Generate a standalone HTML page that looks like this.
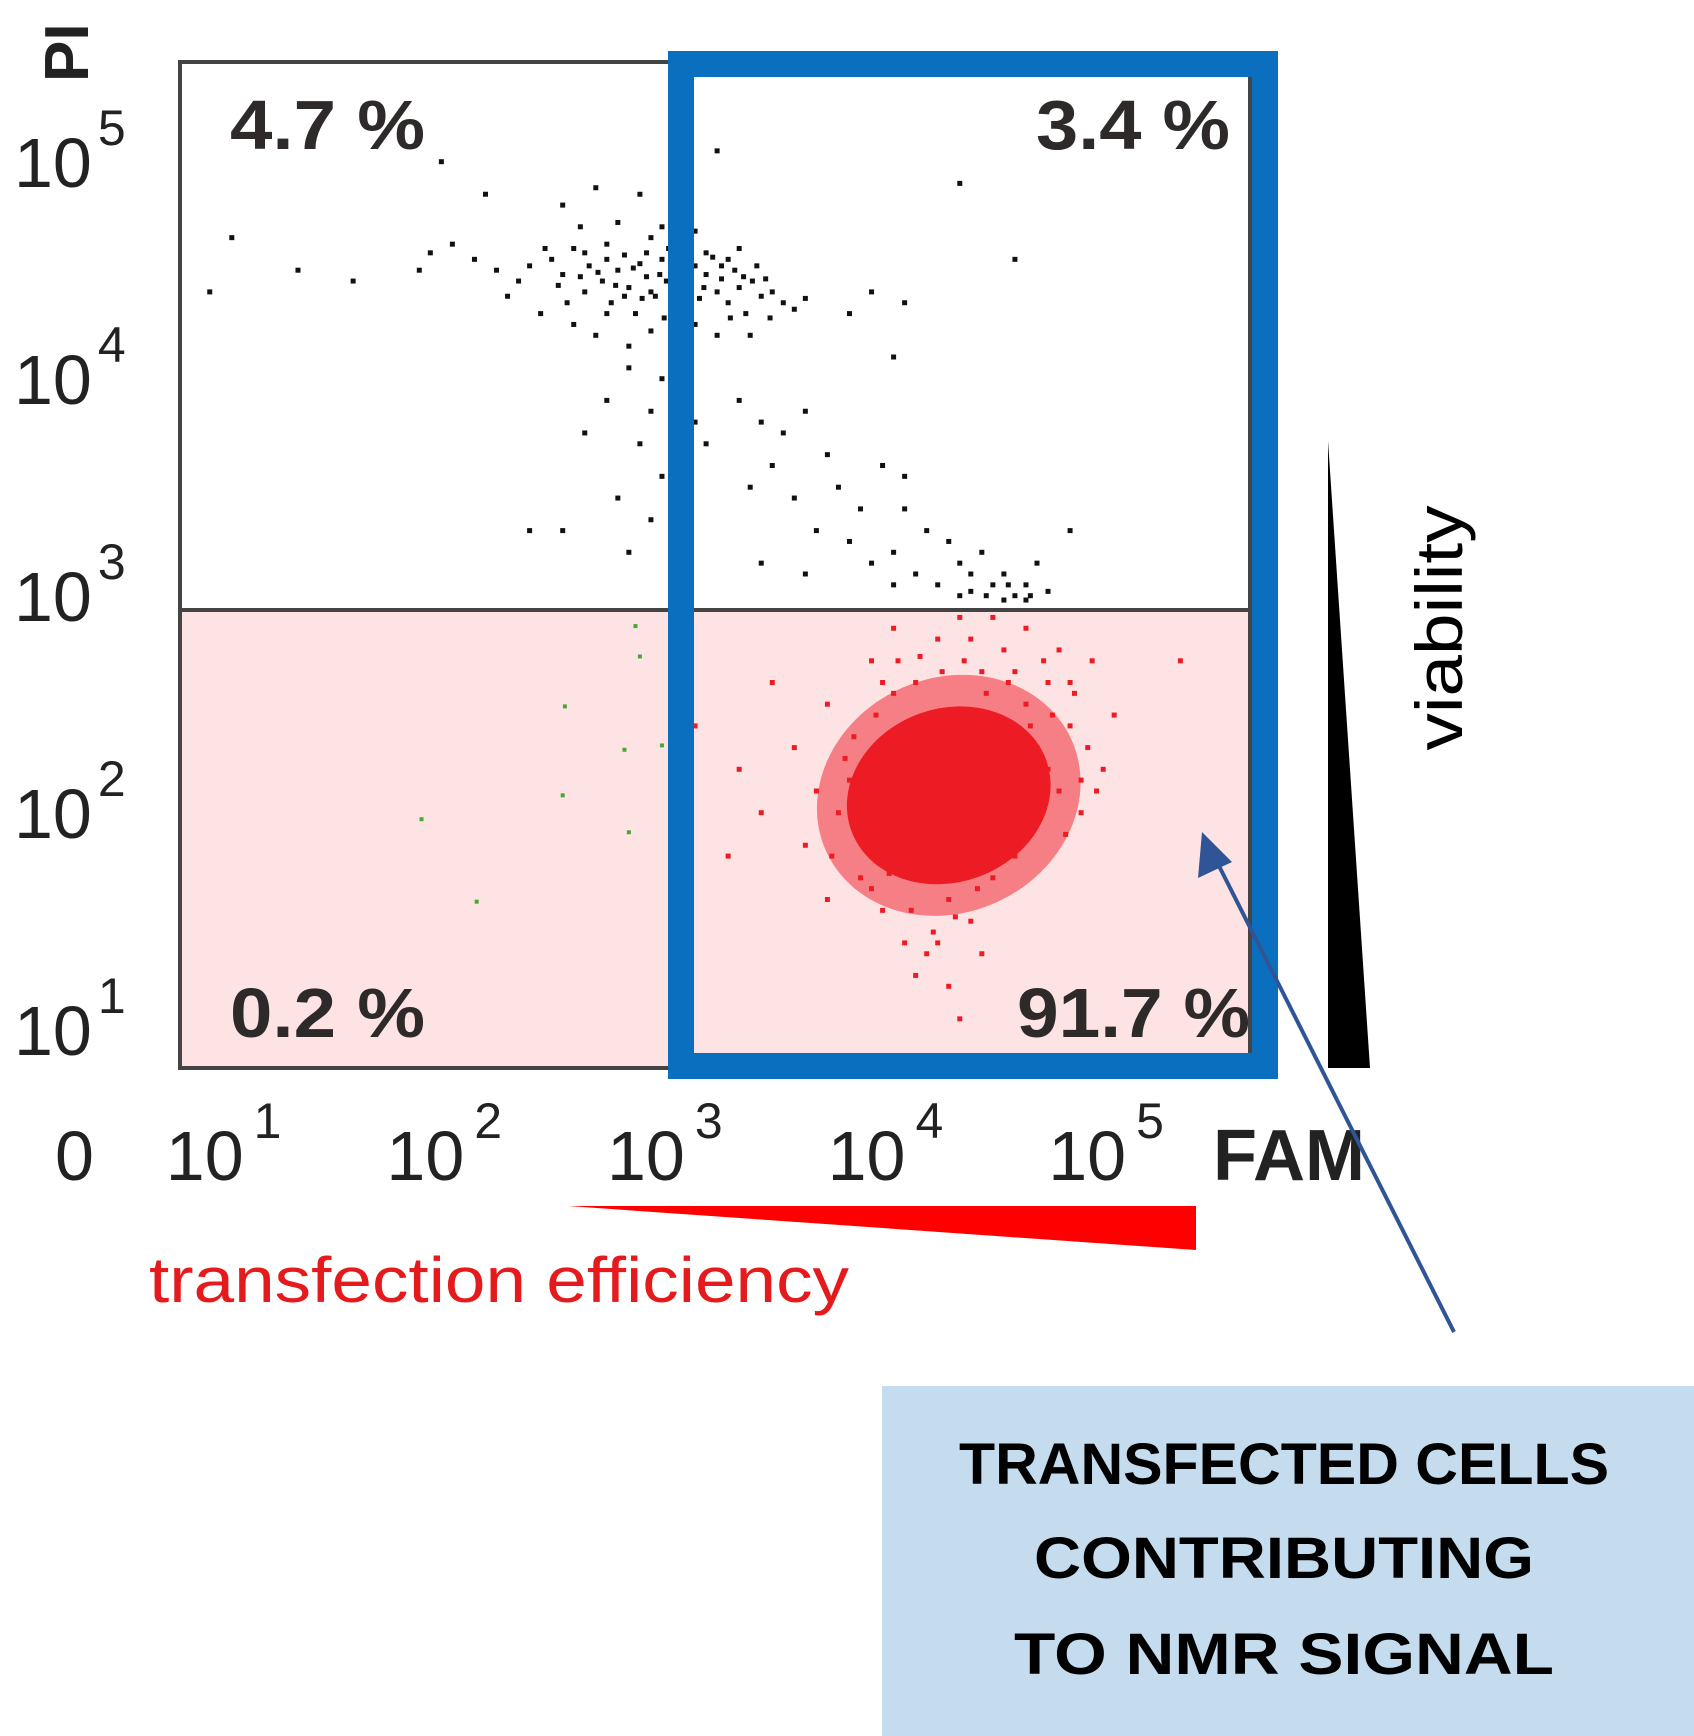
<!DOCTYPE html>
<html><head><meta charset="utf-8"><style>
html,body{margin:0;padding:0;background:#fff;}
svg{display:block;}
text{font-family:"Liberation Sans",sans-serif;}
</style></head><body>
<svg id="chart" width="1694" height="1736" viewBox="0 0 1694 1736" xmlns="http://www.w3.org/2000/svg">
  <rect x="180" y="610" width="1070" height="458" fill="#fde3e4"/>
  <g id="points"></g>
  <rect x="180" y="62" width="1070" height="1006" fill="none" stroke="#444" stroke-width="4"/>
  <line x1="180" y1="610" x2="1250" y2="610" stroke="#444" stroke-width="4"/>
  <rect x="681" y="64" width="584" height="1002" fill="none" stroke="#0b6fbf" stroke-width="26"/>

  <g font-weight="bold" font-size="70" fill="#2e2a2a">
    <text x="230" y="149" textLength="195" lengthAdjust="spacingAndGlyphs">4.7 %</text>
    <text x="1036" y="149" textLength="194" lengthAdjust="spacingAndGlyphs">3.4 %</text>
    <text x="230" y="1037" textLength="195" lengthAdjust="spacingAndGlyphs">0.2 %</text>
    <text x="1017" y="1037" textLength="233" lengthAdjust="spacingAndGlyphs">91.7 %</text>
  </g>

  <g id="yticks"></g>
  <g id="xticks"></g>
  <text x="88" y="82" font-size="62" font-weight="bold" fill="#222" transform="rotate(-90 88 82)">PI</text>
  <text x="1213" y="1180" font-size="72" font-weight="bold" fill="#222">FAM</text>

  <polygon points="1328,441 1370,1068 1328,1068" fill="#000"/>
  <text x="0" y="0" font-size="66" fill="#000" transform="translate(1462 628) rotate(-90)" text-anchor="middle" textLength="245" lengthAdjust="spacingAndGlyphs">viability</text>

  <polygon points="568,1206 1196,1206 1196,1250" fill="#ff0000"/>
  <text x="149" y="1302" font-size="64" fill="#e41a1c" textLength="700" lengthAdjust="spacingAndGlyphs">transfection efficiency</text>

  <line x1="1454" y1="1332" x2="1215" y2="858" stroke="#2f5597" stroke-width="4"/>
  <polygon points="1202,832 1198,878 1232,862" fill="#2f5597"/>

  <rect x="882" y="1386" width="812" height="350" fill="#c5dcee"/>
  <g font-weight="bold" font-size="58" fill="#000" text-anchor="middle">
    <text x="1284" y="1484" textLength="650" lengthAdjust="spacingAndGlyphs">TRANSFECTED CELLS</text>
    <text x="1284" y="1578" textLength="500" lengthAdjust="spacingAndGlyphs">CONTRIBUTING</text>
    <text x="1284" y="1674" textLength="540" lengthAdjust="spacingAndGlyphs">TO NMR SIGNAL</text>
  </g>
</svg>
<script>
const NS = "http://www.w3.org/2000/svg";
const yTickExps = [5, 4, 3, 2, 1];
const xTickExps = [1, 2, 3, 4, 5];
const blackPts = [[2.45,4.45],[2.5,4.38],[2.55,4.5],[2.6,4.3],[2.62,4.42],[2.68,4.35],[2.7,4.52],[2.72,4.25],[2.75,4.4],[2.78,4.47],[2.8,4.32],[2.83,4.2],[2.85,4.43],[2.88,4.37],[2.9,4.55],[2.92,4.28],[2.95,4.45],[2.97,4.35],[3.0,4.4],[3.02,4.22],[3.05,4.5],[3.08,4.33],[3.1,4.42],[3.12,4.27],[3.15,4.38],[3.18,4.46],[3.2,4.3],[3.22,4.36],[3.25,4.25],[3.28,4.4],[3.3,4.32],[3.33,4.2],[3.36,4.35],[3.4,4.28],[3.45,4.3],[3.5,4.25],[3.55,4.22],[3.6,4.27],[2.3,4.35],[2.35,4.42],[2.2,4.4],[2.25,4.28],[2.1,4.45],[2.0,4.52],[1.9,4.48],[1.85,4.4],[2.4,4.2],[2.55,4.15],[2.65,4.1],[2.8,4.05],[2.9,4.12],[3.0,4.08],[3.1,4.15],[3.2,4.1],[3.35,4.1],[2.58,4.6],[2.75,4.62],[2.95,4.6],[3.1,4.58],[3.3,4.5],[2.5,4.7],[2.85,4.75],[2.65,4.78],[2.48,4.33],[2.7,4.45],[2.9,4.3],[3.05,4.28],[3.15,4.48],[2.6,4.48],[2.78,4.28],[3.25,4.45],[2.42,4.5],[2.52,4.25],[2.88,4.48],[3.38,4.42],[2.66,4.39],[2.74,4.33],[2.82,4.41],[2.86,4.27],[2.94,4.38],[3.04,4.36],[3.14,4.32],[3.22,4.42],[3.32,4.37],[3.42,4.36],[2.58,4.37],[2.98,4.5],[3.06,4.42],[2.7,4.2],[2.96,4.18],[3.26,4.18],[3.44,4.18],[2.8,3.95],[2.95,3.9],[3.05,3.85],[2.7,3.8],[2.9,3.75],[3.1,3.7],[2.6,3.65],[2.85,3.6],[3.15,3.6],[3.3,3.8],[3.4,3.7],[3.5,3.65],[3.6,3.75],[3.7,3.55],[3.45,3.5],[2.95,3.45],[2.75,3.35],[2.9,3.25],[3.0,3.15],[2.5,3.2],[2.35,3.2],[2.8,3.1],[3.35,3.4],[3.55,3.35],[3.75,3.4],[3.85,3.3],[3.95,3.5],[4.05,3.45],[3.65,3.2],[3.8,3.15],[3.9,3.05],[4.0,3.1],[4.1,3.0],[4.2,2.95],[4.3,3.05],[4.35,2.92],[4.45,2.95],[4.5,3.0],[4.55,2.9],[4.6,2.95],[4.4,3.1],[4.25,3.15],[4.15,3.2],[4.65,3.05],[4.7,2.92],[4.8,3.2],[4.05,3.3],[3.6,3.0],[3.4,3.05],[4.5,2.88],[4.35,3.0],[4.6,2.88],[4.3,2.9],[4.0,2.95],[4.42,2.9],[4.52,2.95],[4.62,2.9],[1.0,4.55],[1.3,4.4],[1.55,4.35],[0.9,4.3],[3.2,4.95],[4.3,4.8],[4.55,4.45],[4.05,4.25],[3.9,4.3],[3.8,4.2],[4.0,4.0],[1.95,4.9],[2.15,4.75]];
const redPts = [[3.55,2.2],[3.7,2.4],[3.75,1.9],[3.8,2.05],[3.85,1.6],[3.9,2.6],[3.95,1.45],[4.0,2.75],[4.05,1.3],[4.1,2.5],[4.15,1.25],[4.2,2.7],[4.25,1.5],[4.3,2.8],[4.35,1.4],[4.4,2.55],[4.45,1.6],[4.5,2.65],[4.55,1.7],[4.6,2.4],[4.65,2.2],[4.7,2.5],[4.75,2.0],[4.8,2.3],[4.85,1.9],[4.9,2.6],[4.95,2.1],[5.0,2.35],[3.6,1.75],[3.65,2.0],[3.7,1.5],[3.82,2.25],[3.88,1.75],[3.92,2.35],[3.98,1.62],[4.02,2.6],[4.08,1.45],[4.12,2.62],[4.18,1.35],[4.22,2.55],[4.28,1.42],[4.32,2.6],[4.38,1.55],[4.42,2.45],[4.48,1.7],[4.52,2.5],[4.58,1.85],[4.62,2.3],[4.68,1.95],[4.72,2.35],[4.78,1.8],[4.82,2.45],[4.88,2.2],[4.92,2.0],[3.4,1.9],[3.3,2.1],[3.25,1.7],[3.1,2.3],[3.45,2.5],[4.25,1.1],[4.3,0.95],[4.1,1.15],[4.4,1.25],[5.3,2.6],[4.6,2.75],[4.45,2.8],[4.0,2.45],[3.78,2.15],[4.75,2.65],[4.85,2.05],[3.72,1.7],[3.86,1.95],[4.55,2.55],[4.68,2.6],[4.35,2.7],[3.95,2.5],[4.2,1.3],[3.9,1.55],[4.7,2.1],[4.8,2.5]];
const greenPts = [[2.83,2.76],[2.85,2.62],[2.51,2.39],[2.78,2.19],[2.95,2.21],[2.5,1.98],[2.8,1.81],[1.86,1.87],[2.11,1.49]];
const redCoreCenter = [4.25, 1.98];
const redCoreRadii = [0.47, 0.40];

function xPos(e){ return 673 + (e - 3) * 220.6; }
function yPos(e){ return 791 - (e - 2) * 217; }

const pts = document.getElementById('points');
function addPt(p, color, name, s){
  const r = document.createElementNS(NS, 'rect');
  r.setAttribute('x', xPos(p[0]) - s / 2);
  r.setAttribute('y', yPos(p[1]) - s / 2);
  r.setAttribute('width', s);
  r.setAttribute('height', s);
  r.setAttribute('fill', color);
  
  
  pts.appendChild(r);
}
const cx = xPos(redCoreCenter[0]), cy = yPos(redCoreCenter[1]);
const halo = document.createElementNS(NS, 'ellipse');
halo.setAttribute('cx', cx);
halo.setAttribute('cy', cy);
halo.setAttribute('rx', redCoreRadii[0] * 220.6 * 1.3);
halo.setAttribute('ry', redCoreRadii[1] * 217 * 1.35);
halo.setAttribute('fill', '#ed1c24');
halo.setAttribute('opacity', '0.5');
halo.setAttribute('transform', 'rotate(-25 ' + cx + ' ' + cy + ')');


pts.appendChild(halo);
const core = document.createElementNS(NS, 'ellipse');
core.setAttribute('cx', cx);
core.setAttribute('cy', cy);
core.setAttribute('rx', redCoreRadii[0] * 220.6);
core.setAttribute('ry', redCoreRadii[1] * 217);
core.setAttribute('fill', '#ed1c24');
core.setAttribute('transform', 'rotate(-20 ' + cx + ' ' + cy + ')');


pts.appendChild(core);
redPts.forEach(p => addPt(p, '#ed1c24', 'red-event', 5));
blackPts.forEach(p => addPt(p, '#111', 'black-event', 5));
greenPts.forEach(p => addPt(p, '#4aa832', 'green-event', 4));

const yt = document.getElementById('yticks');
yTickExps.forEach(e => {
  const t = document.createElementNS(NS, 'text');
  t.setAttribute('x', 14);
  t.setAttribute('y', yPos(e) + (187 - yPos(5)));
  t.setAttribute('font-size', '70');
  t.setAttribute('fill', '#222');
  
  
  t.innerHTML = '10<tspan font-size="50" dy="-42" dx="6">' + e + '</tspan>';
  yt.appendChild(t);
});
const xt = document.getElementById('xticks');
const zero = document.createElementNS(NS, 'text');
zero.setAttribute('x', 55);
zero.setAttribute('y', 1180);
zero.setAttribute('font-size', '70');
zero.setAttribute('fill', '#222');


zero.textContent = '0';
xt.appendChild(zero);
xTickExps.forEach(e => {
  const t = document.createElementNS(NS, 'text');
  t.setAttribute('x', xPos(e) - 66);
  t.setAttribute('y', 1180);
  t.setAttribute('font-size', '70');
  t.setAttribute('fill', '#222');
  
  
  t.innerHTML = '10<tspan font-size="50" dy="-42" dx="10">' + e + '</tspan>';
  xt.appendChild(t);
});
</script>
</body></html>
